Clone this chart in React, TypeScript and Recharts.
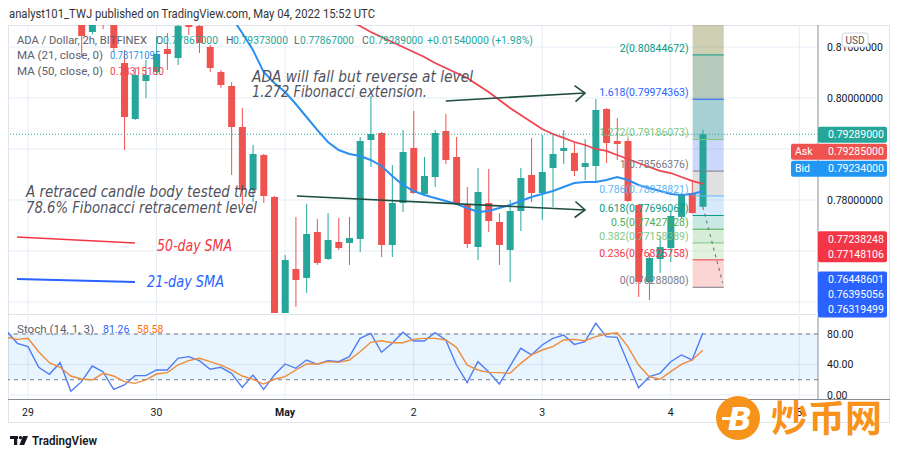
import React from 'react';
import {
  ComposedChart,
  Bar,
  Line,
  XAxis,
  YAxis,
  CartesianGrid,
  ReferenceLine,
  ReferenceArea,
} from 'recharts';

// hours are counted from 29 Apr 00:00, one candle every 2h
const candleStart = 10;
const opens = [
  0.8165, 0.81294, 0.819, 0.816, 0.80686, 0.79588, 0.80333, 0.8051, 0.80961, 0.80784,
  0.81431, 0.81412, 0.81, 0.8051, 0.80235, 0.79431, 0.78196, 0.78882, 0.78059, 0.757,
  0.76647, 0.76471, 0.77373, 0.76843, 0.77176, 0.77157, 0.77235, 0.79176, 0.79314, 0.77118,
  0.77941, 0.7902, 0.78118, 0.78451, 0.79353, 0.78843, 0.77902, 0.77078, 0.77941, 0.77569,
  0.7702, 0.77784, 0.7849, 0.78137, 0.78627, 0.78961, 0.78922, 0.78647, 0.78667, 0.79784,
  0.79157, 0.79157, 0.77902, 0.76392, 0.76843, 0.77059, 0.77667, 0.78137, 0.77867,
];
const highs = [
  0.8175, 0.817, 0.82, 0.817, 0.80941, 0.806, 0.80745, 0.81216, 0.81275, 0.815,
  0.815, 0.8148, 0.81039, 0.80549, 0.80314, 0.79804, 0.79078, 0.78902, 0.78078, 0.76922,
  0.77667, 0.77922, 0.77627, 0.77745, 0.77647, 0.77667, 0.79235, 0.80039, 0.79333, 0.78686,
  0.79373, 0.79745, 0.78843, 0.79373, 0.79686, 0.79235, 0.78255, 0.78627, 0.78608, 0.77745,
  0.78, 0.78627, 0.79216, 0.79275, 0.79314, 0.79373, 0.79118, 0.79196, 0.7998, 0.79804,
  0.79608, 0.79216, 0.77922, 0.76961, 0.77275, 0.77765, 0.78137, 0.78392, 0.79373,
];
const lows = [
  0.808, 0.8125, 0.8135, 0.80902, 0.7898, 0.79569, 0.8, 0.80451, 0.80549, 0.80647,
  0.81235, 0.80882, 0.8051, 0.80196, 0.7849, 0.77902, 0.77961, 0.77941, 0.756, 0.756,
  0.75902, 0.76177, 0.76726, 0.76824, 0.7702, 0.76726, 0.7698, 0.78647, 0.76882, 0.76882,
  0.77765, 0.78118, 0.78098, 0.78255, 0.78706, 0.77922, 0.77059, 0.76824, 0.77373, 0.76726,
  0.76392, 0.77392, 0.77961, 0.77608, 0.77863, 0.78706, 0.78471, 0.78392, 0.78353, 0.78725,
  0.78784, 0.7796, 0.76098, 0.76039, 0.76569, 0.76784, 0.77647, 0.7773, 0.77867,
];
const closes = [
  0.81216, 0.8155, 0.816, 0.8098, 0.79627, 0.80451, 0.80451, 0.80863, 0.80863, 0.81412,
  0.81392, 0.81078, 0.80588, 0.80255, 0.79431, 0.78196, 0.78902, 0.78078, 0.757, 0.76824,
  0.76431, 0.77333, 0.76765, 0.77216, 0.77059, 0.77255, 0.79157, 0.79294, 0.77118, 0.77941,
  0.78941, 0.78137, 0.78471, 0.79314, 0.78784, 0.77941, 0.77137, 0.78157, 0.77588, 0.77118,
  0.77784, 0.78431, 0.78137, 0.78549, 0.78902, 0.7902, 0.78569, 0.78725, 0.79765, 0.79118,
  0.79098, 0.7798, 0.76392, 0.76863, 0.77078, 0.77686, 0.78098, 0.77745, 0.79289,
];

const ma21Start = 36;
const ma21 = [
  0.818, 0.81588, 0.81275, 0.80941, 0.8051, 0.80294, 0.80118, 0.79882, 0.79627, 0.79373,
  0.79137, 0.7898, 0.78902, 0.78863, 0.78784, 0.78667, 0.78471, 0.78294, 0.78176, 0.78098,
  0.78039, 0.7798, 0.77922, 0.77843, 0.77765, 0.77784, 0.77843, 0.77902, 0.7798, 0.78059,
  0.78118, 0.78176, 0.78255, 0.78333, 0.78353, 0.78353, 0.78392, 0.78451, 0.78392, 0.78294,
  0.78235, 0.78176, 0.78118, 0.78098, 0.78118, 0.78171,
];
const ma50Start = 58;
const ma50 = [
  0.81686, 0.8151, 0.81412, 0.81294, 0.81196, 0.81098, 0.81, 0.80902, 0.80804, 0.80686,
  0.80588, 0.8049, 0.80392, 0.80255, 0.80118, 0.79961, 0.79804, 0.79667, 0.79529, 0.79392,
  0.79294, 0.79216, 0.79137, 0.79078, 0.79, 0.78961, 0.78882, 0.78804, 0.78725, 0.78647,
  0.78569, 0.78529, 0.78451, 0.78373, 0.78315,
];

const stochStart = -4;
const stochK = [
  84, 67.8, 63.4, 36.3, 27.1, 42.4, 4.8, 17.5, 38, 30.6,
  7.4, 13.1, 25.4, 25.4, 32.8, 32.8, 48.1, 50.3, 45, 33.7,
  36.3, 28.4, 10, 26.2, 7.4, 26.2, 40.7, 35, 45.9, 40.2,
  45, 43.7, 50.3, 74.3, 80.9, 56, 67.8, 82.2, 70.8, 70.8,
  81.7, 72.1, 39.3, 16.2, 43.7, 30.6, 14.4, 38, 61.2, 52.5,
  65.6, 74.3, 78.7, 66.4, 69.9, 94, 76.5, 75.6, 42.4, 9.6,
  24, 28.4, 43.7, 52.5, 45.9, 81.3,
];
const stochD = [
  75.7, 73, 74.3, 56.8, 42.4, 36.3, 24.9, 21, 19.7, 28.4,
  24.9, 17.5, 15.3, 19.7, 27.5, 29.3, 39.3, 45, 48.1, 43.7,
  39.3, 32.8, 24.9, 20.6, 14.4, 20.6, 24, 32.8, 40.7, 40.7,
  43.7, 42.8, 45.9, 56.8, 69.1, 71.2, 68.6, 68.6, 73, 74.3,
  74.3, 72.1, 62.5, 39.3, 32.8, 29.7, 29.3, 28.4, 41.5, 52.5,
  59, 63.4, 72.1, 73, 71.2, 76.5, 80, 81.7, 63.4, 39.3,
  24, 20.6, 30.6, 40.2, 45.9, 58.6,
];

const dayTicks = [0, 24, 48, 72, 96, 120, 144];
const dayLabels = ['29', '30', 'May', '2', '3', '4', '5'];
const priceTicks = [0.76, 0.77, 0.78, 0.79, 0.8, 0.81];
const stochTicks = [0, 40, 80];
const stochBand = [20, 80];

// fibonacci extension drawn on the chart
const fibRatios = ['2', '1.618', '1.272', '1', '0.786', '0.618', '0.5', '0.382', '0.236', '0'];
const fibPrices = [
  0.80844672, 0.79974363, 0.79186073, 0.78566376, 0.78078821, 0.77696067, 0.77427228,
  0.77158389, 0.76825758, 0.7628808,
];
const fibTop = 0.82253;
const fibHours = [124.1, 129.9];
const fibLineColors = ['#089981', '#2962ff', '#81c784', '#787b86', '#64b5f6', '#089981', '#4caf50', '#81c784', '#f23645', '#787b86'];
const fibFillColors = ['#767629', '#2e653d', '#007984', '#6b8df4', '#a6a6a6', '#8ac3f6', '#62bdaf', '#87cc8a', '#acdaa4', '#f48781'];
const fibDash = [{ x: 126.0, y: 0.77863 }, { x: 129.7, y: 0.76373 }];

// hand-drawn arrows and legend strokes (hour, price)
const arrowUpper = [{ x: 78.0, y: 0.79941 }, { x: 104.0, y: 0.80098 }];
const arrowLower = [{ x: 50.2, y: 0.78078 }, { x: 104.0, y: 0.77804 }];
const sma50Stroke = [{ x: -2.05, y: 0.77275 }, { x: 19.97, y: 0.77157 }];
const sma21Stroke = [{ x: -2.05, y: 0.76451 }, { x: 19.97, y: 0.76392 }];

const lastClose = 0.79289;
const priceTags = [
  { rows: ['0.79289000'], value: 0.79289, color: '#26a69a', prefix: '' },
  { rows: ['0.79285000'], value: 0.79285, color: '#ef5350', prefix: 'Ask' },
  { rows: ['0.79234000'], value: 0.79234, color: '#2196f3', prefix: 'Bid' },
  { rows: ['0.77238248', '0.77148106'], value: 0.77238248, color: '#f23645', prefix: '' },
  { rows: ['0.76448601', '0.76395056', '0.76319499'], value: 0.76448601, color: '#2962ff', prefix: '' },
];

const W = 900;
const H = 457;
const PLOT_LEFT = 8;
const AXIS_W = 82;
const MAIN_TOP = 25;
const MAIN_BOTTOM = 313;
const STOCH_TOP = 316;
const STOCH_BOTTOM = 399;
const hourDomain = [-3.73, 147.5];
const priceDomain = [0.75784, 0.81431];
const stochDomain = [-5.25, 103.6];

const FONT = 'Roboto, "Liberation Sans", sans-serif';
const UP = '#26a69a';
const DOWN = '#ef5350';
const GRID = '#e6ecf4';
const AXIS = '#8a8d96';
const NOTE = '#50535e';

const rows: any[] = [];
for (let t = stochStart; t <= 126; t += 2) {
  const ci = (t - candleStart) / 2;
  rows.push({
    t,
    open: opens[ci],
    high: highs[ci],
    low: lows[ci],
    close: closes[ci],
    ma21: ma21[(t - ma21Start) / 2],
    ma50: ma50[(t - ma50Start) / 2],
    k: stochK[(t - stochStart) / 2],
    d: stochD[(t - stochStart) / 2],
  });
}

const candleRange = (r: any) => (r.open == null ? undefined : [r.low, r.high]);

const Candle = (props: any) => {
  const { x, y, width, height, payload } = props;
  if (!payload || payload.open == null || !height) return <g />;
  const { open, high, low, close } = payload;
  const py = (v: number) => y + ((high - v) / (high - low)) * height;
  const color = close >= open ? UP : DOWN;
  const top = py(Math.max(open, close));
  const bottom = py(Math.min(open, close));
  const cx = x + width / 2;
  return (
    <g>
      <line x1={cx} x2={cx} y1={y} y2={y + height} stroke={color} strokeWidth={1} />
      <rect x={x} y={top} width={width} height={Math.max(1, bottom - top)} fill={color} />
    </g>
  );
};

const Arrow = (p: any) => {
  const { x1, y1, x2, y2 } = p;
  const len = Math.hypot(x2 - x1, y2 - y1) || 1;
  const ux = (x2 - x1) / len;
  const uy = (y2 - y1) / len;
  const bx = x2 - ux * 10;
  const by = y2 - uy * 10;
  return (
    <g stroke="#1f4d40" strokeWidth={1.6} fill="none">
      <line x1={x1} y1={y1} x2={x2} y2={y2} />
      <polyline points={`${bx - uy * 8},${by + ux * 8} ${x2},${y2} ${bx + uy * 8},${by - ux * 8}`} />
    </g>
  );
};

const fibLabel = (text: string, color: string) => (lp: any) => {
  const vb = lp.viewBox || {};
  return (
    <text x={vb.x - 4} y={vb.y - 3} textAnchor="end" fontSize={10.5} fill={color} fontFamily={FONT}>
      {text}
    </text>
  );
};

const DayTick = (p: any) => {
  const label = dayLabels[dayTicks.indexOf(p.payload.value)];
  return (
    <text x={p.x} y={p.y} dy={9} textAnchor="middle" fontSize={10.5} fill="#131722" fontFamily={FONT} fontWeight={label === 'May' ? 700 : 400}>
      {label}
    </text>
  );
};

const priceToY = (p: number) =>
  MAIN_TOP + ((priceDomain[1] - p) / (priceDomain[1] - priceDomain[0])) * (MAIN_BOTTOM - MAIN_TOP);

function PriceTags() {
  let prevBottom = -Infinity;
  return (
    <g fontFamily={FONT} fontSize={10.5}>
      {priceTags.map((tag, i) => {
        const h = tag.rows.length * 15 + 1;
        const top = Math.max(priceToY(tag.value) - 7.5, prevBottom + 1);
        prevBottom = top + h;
        const left = tag.prefix ? 791 : 818;
        return (
          <g key={i}>
            <rect x={left} y={top} width={887 - left} height={h} rx={2} fill={tag.color} />
            {tag.prefix && (
              <text x={795} y={top + 11.5} fill="#fff">{tag.prefix}</text>
            )}
            {tag.rows.map((r, j) => (
              <text key={j} x={828} y={top + 11.5 + j * 15} fill="#fff">{r}</text>
            ))}
          </g>
        );
      })}
    </g>
  );
}

export default function App() {
  const zoneTops = [fibTop, ...fibPrices.slice(0, -1)];
  return (
    <div style={{ position: 'absolute', left: 0, top: 0, width: W, height: H, background: '#fff', overflow: 'hidden' }}>
      <div style={{ position: 'absolute', left: 8, top: 25, width: 882, height: 398, border: '1px solid #e0e3eb', boxSizing: 'border-box' }} />
      <div style={{ position: 'absolute', left: 8, top: 314, width: 882, height: 1, background: '#e0e3eb' }} />
      <div style={{ position: 'absolute', left: 8, top: 399, width: 882, height: 1, background: AXIS }} />

      <div style={{ position: 'absolute', left: 0, top: 0 }}>
        <ComposedChart width={W} height={H} data={rows} margin={{ top: MAIN_TOP, right: 0, bottom: H - MAIN_BOTTOM, left: PLOT_LEFT }}>
          <CartesianGrid stroke={GRID} verticalValues={dayTicks} horizontalValues={priceTicks} />
          <XAxis type="number" dataKey="t" domain={hourDomain} allowDataOverflow hide ticks={dayTicks} />
          <YAxis
            orientation="right"
            width={AXIS_W}
            domain={priceDomain}
            allowDataOverflow
            ticks={priceTicks}
            interval={0}
            tickFormatter={(v: number) => v.toFixed(8)}
            tick={{ fill: '#131722', fontSize: 10.5, fontFamily: FONT }}
            tickLine={false}
            tickMargin={3}
            axisLine={{ stroke: AXIS }}
          />
          <Bar dataKey={candleRange} barSize={7} shape={Candle} isAnimationActive={false} />
          <Line dataKey="ma21" stroke="#2b8ff0" strokeWidth={2} dot={false} isAnimationActive={false} />
          <Line dataKey="ma50" stroke="#f0434f" strokeWidth={1.8} dot={false} isAnimationActive={false} />
          {fibPrices.map((p, i) => (
            <ReferenceArea
              key={'z' + i}
              x1={fibHours[0]}
              x2={fibHours[1]}
              y1={p}
              y2={zoneTops[i]}
              fill={fibFillColors[i]}
              fillOpacity={0.35}
              stroke="none"
              ifOverflow="hidden"
            />
          ))}
          {fibPrices.map((p, i) => (
            <ReferenceLine
              key={'f' + i}
              segment={[{ x: fibHours[0], y: p }, { x: fibHours[1], y: p }]}
              stroke={fibLineColors[i]}
              strokeWidth={1}
              ifOverflow="visible"
              label={fibLabel(`${fibRatios[i]}(${p.toFixed(8)})`, fibLineColors[i])}
            />
          ))}
          <ReferenceLine segment={fibDash} stroke="#787b86" strokeWidth={1.2} strokeDasharray="3 4" ifOverflow="visible" />
          <ReferenceLine y={lastClose} stroke={UP} strokeDasharray="1 2" ifOverflow="visible" />
          <ReferenceLine segment={arrowUpper} shape={Arrow} ifOverflow="visible" />
          <ReferenceLine segment={arrowLower} shape={Arrow} ifOverflow="visible" />
          <ReferenceLine segment={sma50Stroke} stroke="#f23645" strokeWidth={1.6} ifOverflow="visible" />
          <ReferenceLine segment={sma21Stroke} stroke="#2962ff" strokeWidth={1.8} ifOverflow="visible" />
        </ComposedChart>
      </div>

      <div style={{ position: 'absolute', left: 0, top: 0 }}>
        <ComposedChart width={W} height={H} data={rows} margin={{ top: STOCH_TOP, right: 0, bottom: H - STOCH_BOTTOM - 30, left: PLOT_LEFT }}>
          <CartesianGrid stroke={GRID} verticalValues={dayTicks} horizontalValues={stochTicks} />
          <XAxis
            type="number"
            dataKey="t"
            domain={hourDomain}
            allowDataOverflow
            ticks={dayTicks}
            interval={0}
            height={30}
            tickLine={false}
            axisLine={false}
            tick={DayTick}
          />
          <YAxis
            orientation="right"
            width={AXIS_W}
            domain={stochDomain}
            allowDataOverflow
            ticks={stochTicks}
            interval={0}
            tickFormatter={(v: number) => v.toFixed(2)}
            tick={{ fill: '#131722', fontSize: 10.5, fontFamily: FONT }}
            tickLine={false}
            tickMargin={3}
            axisLine={{ stroke: AXIS }}
          />
          <ReferenceArea y1={stochBand[0]} y2={stochBand[1]} fill="#2196f3" fillOpacity={0.1} stroke="none" />
          <ReferenceLine y={stochBand[1]} stroke="#787b86" strokeDasharray="4 4" />
          <ReferenceLine y={stochBand[0]} stroke="#787b86" strokeDasharray="4 4" />
          <Line dataKey="k" stroke="#4f7df3" strokeWidth={1.4} dot={false} isAnimationActive={false} />
          <Line dataKey="d" stroke="#f08a3c" strokeWidth={1.4} dot={false} isAnimationActive={false} />
        </ComposedChart>
      </div>

      <svg width={W} height={H} style={{ position: 'absolute', left: 0, top: 0, pointerEvents: 'none' }} fontFamily={FONT}>
        <text x={9} y={18} fontSize={12} fill="#333" textLength={366} lengthAdjust="spacingAndGlyphs">
          analyst101_TWJ published on TradingView.com, May 04, 2022 15:52 UTC
        </text>

        <g fontSize={10.5}>
          <text x={17} y={44} fill="#5d606b" textLength={130} lengthAdjust="spacingAndGlyphs">ADA / Dollar, 2h, BITFINEX</text>
          <text x={156} y={44} fill="#5d606b">O</text>
          <text x={163} y={44} fill={UP} textLength={55} lengthAdjust="spacingAndGlyphs">0.77867000</text>
          <text x={226} y={44} fill="#5d606b">H</text>
          <text x={233} y={44} fill={UP} textLength={55} lengthAdjust="spacingAndGlyphs">0.79373000</text>
          <text x={294} y={44} fill="#5d606b">L</text>
          <text x={300} y={44} fill={UP} textLength={54} lengthAdjust="spacingAndGlyphs">0.77867000</text>
          <text x={362} y={44} fill="#5d606b">C</text>
          <text x={369} y={44} fill={UP} textLength={54} lengthAdjust="spacingAndGlyphs">0.79289000</text>
          <text x={427} y={44} fill={UP} textLength={106} lengthAdjust="spacingAndGlyphs">+0.01540000 (+1.98%)</text>
          <text x={17} y={59} fill="#5d606b" textLength={86} lengthAdjust="spacingAndGlyphs">MA (21, close, 0)</text>
          <text x={110} y={59} fill="#2b8ff0" textLength={50} lengthAdjust="spacingAndGlyphs">0.78171095</text>
          <text x={17} y={75} fill="#5d606b" textLength={86} lengthAdjust="spacingAndGlyphs">MA (50, close, 0)</text>
          <text x={110} y={75} fill="#f0434f" textLength={54} lengthAdjust="spacingAndGlyphs">0.78315180</text>
        </g>

        <g fontSize={15} fontStyle="italic" fill={NOTE} fontFamily='"DejaVu Sans", sans-serif'>
          <text x={252} y={82} textLength={221} lengthAdjust="spacingAndGlyphs">ADA will fall but reverse at level</text>
          <text x={252} y={97} textLength={175} lengthAdjust="spacingAndGlyphs">1.272 Fibonacci extension.</text>
          <text x={26} y={197} textLength={230} lengthAdjust="spacingAndGlyphs">A retraced candle body tested the</text>
          <text x={26} y={213} textLength={231} lengthAdjust="spacingAndGlyphs">78.6% Fibonacci retracement level</text>
          <text x={157} y={251} fill="#f23645" textLength={75} lengthAdjust="spacingAndGlyphs">50-day SMA</text>
          <text x={147} y={287} fill="#2962ff" textLength={77} lengthAdjust="spacingAndGlyphs">21-day SMA</text>
        </g>

        <g fontSize={10.5}>
          <text x={17} y={333} fill="#5d606b" textLength={77} lengthAdjust="spacingAndGlyphs">Stoch (14, 1, 3)</text>
          <text x={103} y={333} fill="#2962ff">81.26</text>
          <text x={137} y={333} fill="#ff6d00">58.58</text>
        </g>

        <rect x={842} y={33} width={26} height={14} rx={3} fill="#fff" stroke="#d1d4dc" />
        <text x={855} y={44} fontSize={10} fill="#50535e" textAnchor="middle">USD</text>

        <PriceTags />

        <g fill="#131722">
          <rect x={10} y={436} width={8} height={3} />
          <rect x={14} y={436} width={3.2} height={9} />
          <circle cx={20.5} cy={437.6} r={1.7} />
          <polygon points="23,436 28,436 24.2,445 19.4,445" />
          <text x={32} y={445} fontSize={13} fontWeight={600} textLength={65} lengthAdjust="spacingAndGlyphs">TradingView</text>
        </g>

        <circle cx={738} cy={418} r={22} fill="#f7931a" />
        <text x={740} y={430} fontSize={32} fontWeight={700} fontStyle="italic" fill="#fff" textAnchor="middle" fontFamily='"DejaVu Sans", sans-serif'>B</text>
        <rect x={722} y={417} width={9} height={3} fill="#fff" />
        <text x={771} y={432} fontSize={37} fontWeight={700} fill="#f7931a" fontFamily='"Noto Sans CJK SC", sans-serif'>炒币网</text>
      </svg>
    </div>
  );
}
